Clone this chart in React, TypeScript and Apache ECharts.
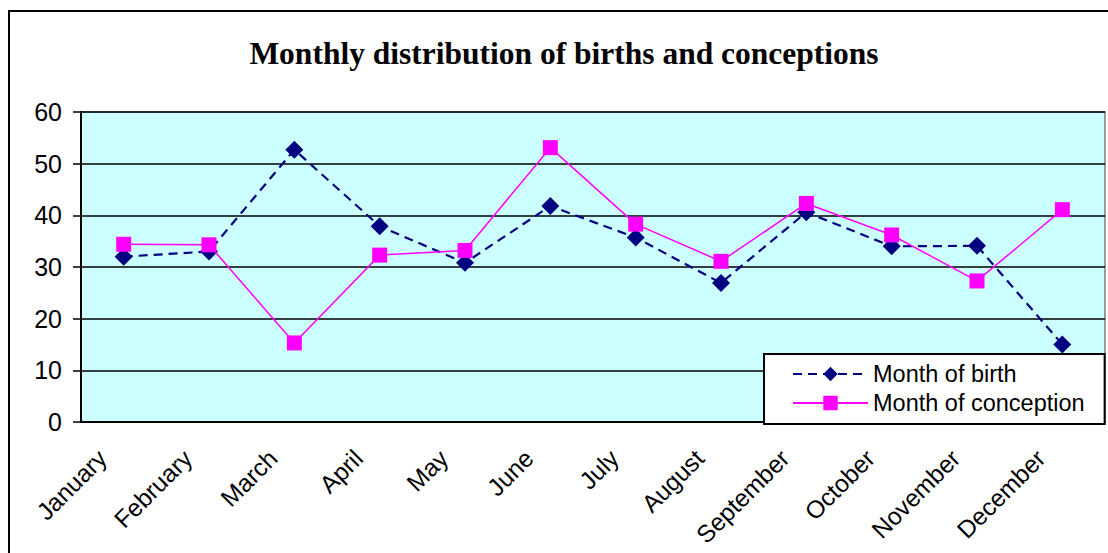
import React, { useEffect, useRef } from "react";
import * as echarts from "echarts";

const months = [
  "January", "February", "March", "April", "May", "June",
  "July", "August", "September", "October", "November", "December",
];
const birthValues = [32, 33, 52.7, 37.9, 30.8, 41.8, 35.7, 26.9, 40.6, 34, 34.1, 15];
const conceptionValues = [34.4, 34.3, 15.3, 32.3, 33.2, 53.1, 38.3, 31.1, 42.3, 36.2, 27.3, 41.1];
const titleText = "Monthly distribution of births and conceptions";
const birthName = "Month of birth";
const conceptionName = "Month of conception";

export default function App() {
  const ref = useRef<HTMLDivElement>(null);
  useEffect(() => {
    if (!ref.current) return;
    const chart = echarts.init(ref.current, null, { renderer: "svg" });
    const font = "'Liberation Sans', Arial, sans-serif";
    chart.setOption({
      animation: false,
      backgroundColor: "#ffffff",
      title: {
        text: titleText,
        left: 559,
        top: 32,
        textAlign: "center",
        textStyle: {
          fontFamily: "'Liberation Serif', 'Times New Roman', serif",
          fontWeight: "bold",
          fontSize: 31.5,
          color: "#000",
        },
      },
      graphic: [
        {
          type: "rect",
          shape: { x: 9, y: 11, width: 1120, height: 560 },
          style: { fill: "none", stroke: "#000", lineWidth: 2 },
          silent: true,
          z: 100,
        },
      ],
      legend: {
        orient: "vertical",
        left: 764,
        top: 354,
        padding: [8, 20, 9, 28],
        itemWidth: 75,
        itemHeight: 18,
        itemGap: 5,
        backgroundColor: "#fff",
        borderColor: "#000",
        borderWidth: 2,
        textStyle: { fontFamily: font, fontSize: 23.5, color: "#000" },
        data: [birthName, conceptionName],
      },
      grid: {
        left: 81,
        right: 3,
        top: 112,
        bottom: 131,
        show: true,
        backgroundColor: "#CCFFFF",
        borderColor: "#808080",
        borderWidth: 1.5,
      },
      xAxis: {
        type: "category",
        data: months,
        boundaryGap: true,
        axisLine: { lineStyle: { color: "#000", width: 2 } },
        axisTick: { length: 7, lineStyle: { color: "#000", width: 1.5 } },
        axisLabel: {
          rotate: 45,
          interval: 0,
          margin: 11,
          padding: [0, 30, 0, 0],
          fontFamily: font,
          fontSize: 24.5,
          color: "#000",
        },
      },
      yAxis: {
        type: "value",
        min: 0,
        max: 60,
        interval: 10,
        axisLine: { show: true, lineStyle: { color: "#000", width: 2 } },
        axisTick: { show: true, length: 8, lineStyle: { color: "#000", width: 1.5 } },
        axisLabel: { margin: 19, fontFamily: font, fontSize: 25, color: "#000" },
        splitLine: { show: true, lineStyle: { color: "#000", width: 1.5 } },
      },
      series: [
        {
          name: birthName,
          type: "line",
          data: birthValues,
          symbol: "diamond",
          symbolSize: 18,
          itemStyle: { color: "#000080" },
          lineStyle: { color: "#000080", width: 2.2, type: [9, 6] },
          z: 3,
        },
        {
          name: conceptionName,
          type: "line",
          data: conceptionValues,
          symbol: "rect",
          symbolSize: 15,
          itemStyle: { color: "#FF00FF" },
          lineStyle: { color: "#FF00FF", width: 1.5 },
          z: 4,
        },
      ],
    });
    return () => chart.dispose();
  }, []);
  return (
    <div
      ref={ref}
      style={{ position: "fixed", left: 0, top: 0, width: 1108, height: 553 }}
    />
  );
}
